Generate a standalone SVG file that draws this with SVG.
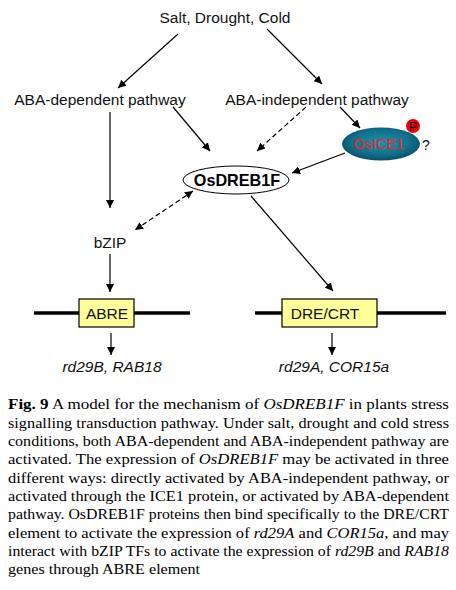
<svg xmlns="http://www.w3.org/2000/svg" width="456" height="590" viewBox="0 0 456 590">
<style>
.lbl{font-family:"Liberation Sans",Arial,sans-serif;font-size:15.5px;fill:#111}
.it{font-style:italic}
.ln{stroke:#000;stroke-width:1.2;fill:none}
.ds{stroke:#000;stroke-width:1.2;fill:none;stroke-dasharray:5,3}
.box{fill:#ffff99;stroke:#000;stroke-width:1.2}
.dna{stroke:#000;stroke-width:3.5}
.cap{font-family:"Liberation Serif","Times New Roman",serif;font-size:14px;fill:#000}
</style>
<defs>
<marker id="ah" viewBox="0 0 10 10" refX="10" refY="5" markerWidth="8" markerHeight="8" markerUnits="userSpaceOnUse" orient="auto-start-reverse">
<path d="M0,0 L10,5 L0,10 z" fill="#000"/>
</marker>
<radialGradient id="tg" cx="50%" cy="45%" r="55%">
<stop offset="0" stop-color="#1c94ab"/>
<stop offset="0.7" stop-color="#0f6f8a"/>
<stop offset="1" stop-color="#0a4d66"/>
</radialGradient>
</defs>
<rect width="456" height="590" fill="#fff"/>

<g id="connectors">
<line class="ln" x1="178" y1="34" x2="118" y2="88" marker-end="url(#ah)"/>
<line class="ln" x1="267" y1="29" x2="322" y2="84" marker-end="url(#ah)"/>
<line class="ln" x1="173" y1="107" x2="210" y2="151" marker-end="url(#ah)"/>
<line class="ds" x1="306" y1="107" x2="257" y2="151" marker-end="url(#ah)"/>
<line class="ln" x1="340" y1="107" x2="360" y2="128" marker-end="url(#ah)"/>
<line class="ln" x1="345" y1="153" x2="292" y2="173" marker-end="url(#ah)"/>
<line class="ln" x1="110" y1="112" x2="110" y2="208" marker-end="url(#ah)"/>
<line class="ds" x1="193" y1="191" x2="135" y2="230" marker-start="url(#ah)" marker-end="url(#ah)"/>
<line class="ln" x1="251" y1="196" x2="333" y2="291" marker-end="url(#ah)"/>
<line class="ln" x1="110" y1="254" x2="110" y2="292" marker-end="url(#ah)"/>
<line class="ln" x1="111" y1="333" x2="111" y2="355" marker-end="url(#ah)"/>
<line class="ln" x1="332" y1="333" x2="332" y2="355" marker-end="url(#ah)" stroke="#444"/>
</g>

<g id="stress"><text class="lbl" x="225" y="23" text-anchor="middle">Salt, Drought, Cold</text></g>
<g id="aba-dep"><text class="lbl" x="100" y="105" text-anchor="middle">ABA-dependent pathway</text></g>
<g id="aba-indep"><text class="lbl" x="317" y="105" text-anchor="middle">ABA-independent pathway</text></g>

<g id="osice1">
<ellipse cx="381" cy="144" rx="39" ry="16.5" fill="url(#tg)"/>
<text x="379" y="149" text-anchor="middle" font-family="'Liberation Sans',Arial,sans-serif" font-size="14.5" fill="#ff2020">OsICE1</text>
<circle cx="413" cy="126" r="7" fill="#ee0000"/>
<text x="413" y="131" text-anchor="middle" font-family="'Liberation Sans',Arial,sans-serif" font-size="13" fill="#000">P</text>
<text x="426" y="150" text-anchor="middle" font-family="'Liberation Sans',Arial,sans-serif" font-size="14" fill="#111">?</text>
</g>

<g id="osdreb1f">
<ellipse cx="236" cy="180" rx="53" ry="14" fill="#fff" stroke="#000" stroke-width="1"/>
<text x="237" y="186" text-anchor="middle" font-family="'Liberation Sans',Arial,sans-serif" font-size="16.2" font-weight="bold" fill="#000">OsDREB1F</text>
</g>

<g id="bzip"><text class="lbl" x="110" y="248" text-anchor="middle">bZIP</text></g>

<g id="abre">
<line class="dna" x1="34" y1="313" x2="190" y2="313"/>
<rect class="box" x="79" y="299" width="55" height="28"/>
<text class="lbl" x="107" y="319" text-anchor="middle" font-size="15">ABRE</text>
</g>

<g id="drecrt">
<line class="dna" x1="255" y1="313" x2="446" y2="313"/>
<rect class="box" x="282" y="299" width="95" height="28"/>
<text class="lbl" x="325" y="319" text-anchor="middle" font-size="15">DRE/CRT</text>
</g>

<g id="genes-left"><text class="lbl it" x="112" y="372" text-anchor="middle">rd29B, RAB18</text></g>
<g id="genes-right"><text class="lbl it" x="334" y="372" text-anchor="middle">rd29A, COR15a</text></g>

<g id="caption" class="cap">
<text x="8" y="409" textLength="441" lengthAdjust="spacingAndGlyphs"><tspan font-weight="bold">Fig. 9</tspan> A model for the mechanism of <tspan font-style="italic">OsDREB1F</tspan> in plants stress</text>
<text x="8" y="427.5" textLength="441" lengthAdjust="spacingAndGlyphs">signalling transduction pathway. Under salt, drought and cold stress</text>
<text x="8" y="446" textLength="441" lengthAdjust="spacingAndGlyphs">conditions, both ABA-dependent and ABA-independent pathway are</text>
<text x="8" y="464.3" textLength="441" lengthAdjust="spacingAndGlyphs">activated. The expression of <tspan font-style="italic">OsDREB1F</tspan> may be activated in three</text>
<text x="8" y="482.6" textLength="441" lengthAdjust="spacingAndGlyphs">different ways: directly activated by ABA-independent pathway, or</text>
<text x="8" y="501" textLength="441" lengthAdjust="spacingAndGlyphs">activated through the ICE1 protein, or activated by ABA-dependent</text>
<text x="8" y="519.3" textLength="441" lengthAdjust="spacingAndGlyphs">pathway. OsDREB1F proteins then bind specifically to the DRE/CRT</text>
<text x="8" y="537.6" textLength="441" lengthAdjust="spacingAndGlyphs">element to activate the expression of <tspan font-style="italic">rd29A</tspan> and <tspan font-style="italic">COR15a</tspan>, and may</text>
<text x="8" y="556" textLength="441" lengthAdjust="spacingAndGlyphs">interact with bZIP TFs to activate the expression of <tspan font-style="italic">rd29B</tspan> and <tspan font-style="italic">RAB18</tspan></text>
<text x="8" y="574.3" textLength="192" lengthAdjust="spacingAndGlyphs">genes through ABRE element</text>
</g>
</svg>
